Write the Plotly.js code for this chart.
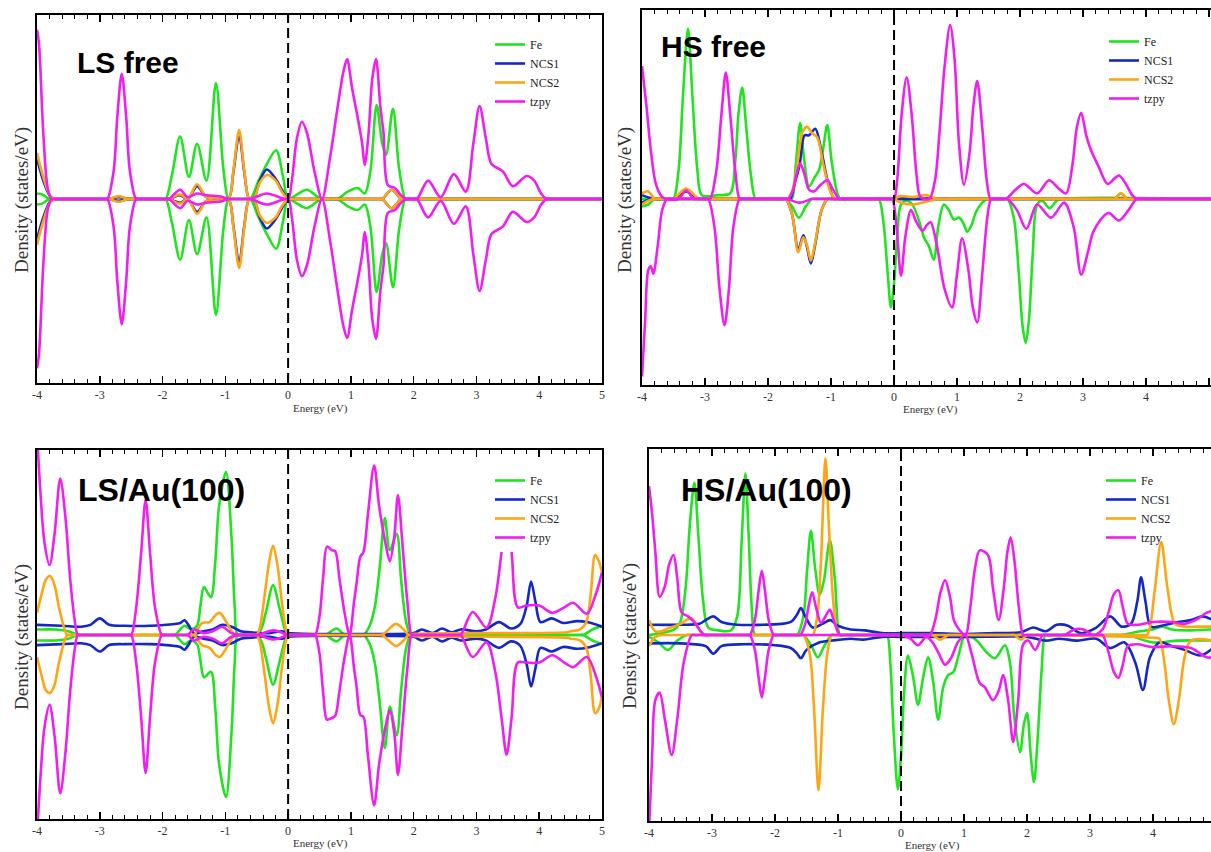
<!DOCTYPE html>
<html><head><meta charset="utf-8">
<script src="https://cdn.plot.ly/plotly-3.0.1.min.js"></script>
<style>html,body{margin:0;padding:0;background:#fff}#plot{width:1211px;height:852px}</style>
</head><body><div id="plot"></div>
<script>
// ---------- tick labels ----------
const tickValues = [-4,-3,-2,-1,0,1,2,3,4,5];
const tickLabels = ['-4','-3','-2','-1','0','1','2','3','4','5'];
const speciesNames = ['Fe','NCS1','NCS2','tzpy'];
const panelTitles = ['LS free','HS free','LS/Au(100)','HS/Au(100)'];

// ---------- Panel 1 : LS free ----------
const lf_Fe_x = [-4,-3.92,-3.8,-3.75,-2.9,-2.85,-2.7,-2.55,-2.5,-2.0,-1.95,-1.85,-1.72,-1.58,-1.45,-1.3,-1.15,-1.03,-0.95,-0.9,-0.65,-0.6,-0.47,-0.34,-0.19,-0.08,0,0.12,0.3,0.48,0.6,0.78,0.95,1.11,1.22,1.31,1.41,1.5,1.56,1.67,1.77,1.87,1.92,4.95,5];
const lf_Fe_up_y = [0.3,0.25,0,0,0,0,0.15,0,0,0,0,1.3,3.4,1.2,3.0,1.0,6.3,1.6,0,0,0,0,1.0,1.9,2.65,1.2,0,0.2,0.5,0.1,0,0,0.4,0.6,0.3,1.5,5.1,3.0,2.4,4.9,1.6,0,0,0,0];
const lf_Fe_dn_y = [-0.3,-0.25,0,0,0,0,-0.15,0,0,0,0,-1.3,-3.3,-1.15,-3.0,-1.0,-6.3,-1.6,0,0,0,0,-1.0,-1.9,-2.7,-1.2,0,-0.2,-0.5,-0.1,0,0,-0.4,-0.6,-0.3,-1.5,-5.05,-3.0,-2.4,-4.8,-1.6,0,0,0,0];
const lf_NCS_x = [-4,-3.9,-3.8,-3.72,-3.67,-2.9,-2.85,-2.7,-2.55,-2.5,-1.95,-1.9,-1.72,-1.6,-1.45,-1.3,-1.1,-0.95,-0.87,-0.78,-0.7,-0.62,-0.55,-0.45,-0.34,-0.2,-0.1,0,0.05,1.45,1.5,1.65,1.8,1.85,4.95,5];
const lf_NCS1_up_y = [2.2,1.0,0.2,0,0,0,0,0.1,0,0,0,0,0.2,0,0.7,0.1,0.1,0,1.5,3.5,1.5,0,0,1.0,1.6,1.1,0.5,0,0,0,0,0.5,0,0,0,0];
const lf_NCS1_dn_y = [-2.2,-1.0,-0.2,0,0,0,0,-0.1,0,0,0,0,-0.2,0,-0.7,-0.1,-0.1,0,-1.5,-3.5,-1.5,0,0,-1.0,-1.6,-1.1,-0.5,0,0,0,0,-0.5,0,0,0,0];
const lf_NCS2_up_y = [2.5,1.2,0.25,0,0,0,0,0.15,0,0,0,0,0.25,0,0.8,0.1,0.1,0,1.6,3.75,1.6,0,0,0.9,1.3,1.0,0.4,0,0,0,0,0.5,0,0,0,0];
const lf_NCS2_dn_y = [-2.5,-1.2,-0.25,0,0,0,0,-0.15,0,0,0,0,-0.25,0,-0.8,-0.1,-0.1,0,-1.6,-3.75,-1.6,0,0,-0.9,-1.3,-1.0,-0.4,0,0,0,0,-0.5,0,0,0,0];
const lf_tz_x = [-4,-3.97,-3.9,-3.83,-3.77,-3.72,-2.93,-2.88,-2.78,-2.72,-2.65,-2.58,-2.52,-2.42,-2.37,-1.95,-1.9,-1.72,-1.6,-1.45,-1.3,-1.09,-0.95,-0.9,-0.65,-0.6,-0.34,-0.1,0,0.06,0.14,0.22,0.3,0.42,0.54,0.67,0.78,0.88,0.94,1.02,1.11,1.18,1.22,1.28,1.34,1.4,1.47,1.52,1.59,1.7,1.8,1.88,1.95,2.05,2.23,2.43,2.64,2.83,2.95,3.05,3.15,3.24,3.42,3.58,3.8,3.92,4.03,4.12,4.17,4.95,5];
const lf_tz_up_y = [9.2,8.5,3.6,0.6,0,0,0,0,1.5,4.5,6.8,4.5,1.5,0,0,0,0,0.5,0.1,0.3,0.2,0.15,0,0,0,0,0.3,0.05,0,1.0,3.3,4.2,3.6,1.5,0,2.3,4.8,6.9,7.6,6.0,4.4,3.0,1.85,3.5,6.5,7.6,5.0,3.6,0.75,0.6,0.2,0,0,0,1.0,0.1,1.35,0.4,3.0,5.05,3.3,1.9,1.5,0.7,1.25,1.0,0.3,0,0,0,0];
const lf_tz_dn_y = [-9.2,-8.5,-3.6,-0.6,0,0,0,0,-1.5,-4.5,-6.8,-4.5,-1.5,0,0,0,0,-0.5,-0.1,-0.3,-0.2,-0.15,0,0,0,0,-0.3,-0.05,0,-1.0,-3.3,-4.2,-3.6,-1.5,0,-2.3,-4.8,-6.9,-7.55,-6.0,-4.4,-3.0,-1.8,-3.5,-6.5,-7.6,-5.0,-3.6,-0.75,-0.6,-0.2,0,0,0,-1.0,-0.1,-1.35,-0.4,-3.0,-5.0,-3.3,-1.9,-1.5,-0.7,-1.25,-1.0,-0.3,0,0,0,0];

// ---------- Panel 2 : HS free ----------
const hf_Fe_up_x = [-4,-3.8,-3.55,-3.5,-3.42,-3.35,-3.27,-3.2,-3.12,-3.05,-2.8,-2.6,-2.52,-2.47,-2.41,-2.35,-2.28,-2.2,-2.15,-1.67,-1.62,-1.56,-1.49,-1.43,-1.35,-1.27,-1.19,-1.12,-1.06,-0.99,-0.9,-0.85,-0.8,3.45,3.5,3.6,3.7,3.75,5.05,5.1];
const hf_Fe_up_y = [0,0,0,0,1.5,5.5,9.1,5.5,1.5,0.2,0.2,0.3,2.0,4.5,5.95,4.0,1.5,0,0,0,0,1.8,4.05,2.2,0.65,1.1,1.55,2.8,3.95,2.0,0.3,0,0,0,0,0.3,0,0,0,0];
const hf_Fe_dn_x = [-4,-3.9,-3.8,-3.75,-1.77,-1.72,-1.62,-1.51,-1.4,-1.3,-1.25,-0.29,-0.24,-0.17,-0.1,-0.05,0,0.05,0.11,0.2,0.29,0.4,0.48,0.55,0.63,0.7,0.79,0.87,0.95,1.03,1.1,1.16,1.23,1.3,1.4,1.48,1.53,1.75,1.8,1.9,1.98,2.04,2.09,2.14,2.2,2.27,2.35,2.47,2.58,2.65,5.05,5.1];
const hf_Fe_dn_y = [-0.4,-0.3,0,0,0,0,-0.4,-1.0,-0.4,0,0,0,0,-1.2,-4.0,-5.8,-4.5,-2.0,-0.3,-0.1,-0.3,-1.2,-2.1,-2.5,-3.25,-1.5,-0.3,-0.6,-1.1,-1.0,-1.3,-1.75,-1.4,-0.7,-0.2,0,0,0,0,-1.0,-4.0,-6.8,-7.7,-6.5,-3.0,-0.3,-0.1,-0.5,-0.1,0,0,0];
const hf_NCS1_up_x = [-4,-3.8,-3.55,-3.5,-3.3,-3.1,-3.05,-1.7,-1.65,-1.58,-1.5,-1.42,-1.35,-1.25,-1.15,-1.05,-0.95,-0.9,5.05,5.1];
const hf_NCS1_up_y = [0.2,0,0,0,0.4,0,0,0,0,0.8,1.8,3.4,3.4,3.75,2.5,0.9,0,0,0,0];
const hf_NCS1_dn_x = [-4,-3.85,-3.8,-1.77,-1.72,-1.62,-1.52,-1.44,-1.38,-1.32,-1.25,-1.15,-1.05,-1.0,5.05,5.1];
const hf_NCS1_dn_y = [-0.2,0,0,0,0,-0.8,-2.7,-1.95,-2.6,-3.45,-2.4,-0.6,0,0,0,0];
const hf_NCS2_up_x = [-4,-3.9,-3.8,-3.75,-3.55,-3.5,-3.3,-3.1,-3.05,-1.75,-1.7,-1.62,-1.55,-1.45,-1.38,-1.3,-1.22,-1.12,-1.0,-0.92,-0.87,-0.05,0,0.1,0.3,0.5,0.7,0.9,0.95,3.45,3.5,3.6,3.7,3.75,5.05,5.1];
const hf_NCS2_up_y = [0.3,0.4,0,0,0,0,0.55,0,0,0,0,0.4,1.5,3.6,3.85,3.5,3.3,1.8,0.3,0,0,0,0,0.15,0.1,0.2,0,0,0,0,0,0.3,0,0,0,0];
const hf_NCS2_dn_x = [-4,-3.9,-3.8,-3.75,-1.77,-1.72,-1.62,-1.52,-1.44,-1.38,-1.32,-1.25,-1.15,-1.05,-1.0,-0.05,0,0.1,0.3,0.5,0.7,0.75,5.05,5.1];
const hf_NCS2_dn_y = [-0.3,-0.1,0,0,0,0,-0.8,-2.85,-2.05,-2.5,-3.3,-2.3,-0.6,0,0,0,0,-0.2,-0.3,-0.15,0,0,0,0];
const hf_tz_up_x = [-4,-3.93,-3.86,-3.78,-3.68,-3.62,-3.42,-3.3,-3.18,-3.13,-2.97,-2.92,-2.82,-2.74,-2.67,-2.6,-2.52,-2.45,-2.4,-1.73,-1.68,-1.6,-1.55,-1.49,-1.42,-1.35,-1.27,-1.18,-1.06,-0.97,-0.87,-0.82,-0.05,0,0.05,0.12,0.2,0.28,0.36,0.42,0.56,0.65,0.72,0.8,0.89,0.96,1.03,1.11,1.2,1.26,1.32,1.4,1.47,1.53,1.58,1.73,1.78,1.9,2.06,2.27,2.46,2.6,2.73,2.83,2.9,2.97,3.05,3.12,3.25,3.39,3.5,3.57,3.68,3.78,3.85,3.9,5.05,5.1];
const hf_tz_up_y = [7.1,5.0,2.6,0.8,0.1,0,0,0.45,0,0,0,0,1.5,4.5,6.75,4.5,1.5,0,0,0,0,0.5,1.3,1.9,1.3,0.5,0.4,0.7,1.0,0.5,0,0,0,0,1.0,4.5,6.5,4.5,1.2,0.1,0,1.0,3.5,7.0,9.3,7.5,3.0,0.75,2.5,5.0,6.3,3.8,1.0,0,0,0,0,0.4,0.8,0.3,1.0,0.6,0.3,1.8,3.8,4.6,3.4,2.65,1.7,0.8,1.1,1.25,0.8,0.2,0,0,0,0];
const hf_tz_dn_x = [-4,-3.95,-3.9,-3.86,-3.82,-3.75,-3.68,-3.6,-3.55,-3.0,-2.95,-2.85,-2.77,-2.69,-2.62,-2.55,-2.45,-2.4,-1.75,-1.7,-1.5,-1.3,-1.25,-0.08,-0.03,0.04,0.11,0.18,0.27,0.35,0.45,0.52,0.58,0.68,0.8,0.92,1.0,1.08,1.18,1.25,1.32,1.4,1.48,1.54,1.59,1.75,1.8,1.95,2.1,2.27,2.49,2.7,2.85,2.97,3.08,3.17,3.4,3.57,3.72,3.85,3.9,5.05,5.1];
const hf_tz_dn_y = [-9.5,-6.5,-3.8,-3.6,-4.0,-2.5,-0.6,0,0,0,0,-1.5,-4.8,-6.75,-4.8,-1.5,0,0,0,0,-0.2,0,0,0,0,-1.5,-4.1,-2.0,-0.6,-1.2,-1.7,-1.4,-1.25,-2.5,-4.8,-5.8,-4.0,-2.1,-3.8,-5.8,-6.6,-4.0,-1.0,0,0,0,0,-0.6,-1.6,-0.3,-1.0,-0.2,-1.5,-4.05,-2.8,-1.7,-0.75,-1.15,-0.6,0,0,0,0];

// ---------- Panel 3 : LS/Au(100) ----------
const la_Fe_x = [-4,-3.9,-3.7,-3.5,-3.35,-3.3,-1.85,-1.8,-1.65,-1.55,-1.45,-1.4,-1.34,-1.23,-1.16,-1.1,-0.99,-0.9,-0.85,-0.8,-0.6,-0.45,-0.35,-0.24,-0.14,-0.05,0,0.05,0.55,0.6,0.77,0.9,0.95,1.15,1.2,1.3,1.38,1.46,1.54,1.62,1.73,1.8,1.88,1.95,2.0,4.65,4.7,4.85,5];
const la_Fe_up_y = [0.3,0.3,0.3,0.2,0,0,0,0,0.5,0.3,0.5,1.5,2.6,2.05,4.0,7.0,8.85,5.2,1.5,0,0,0.2,1.3,2.7,1.5,0.3,0,0,0,0,0.35,0,0,0,0,0.5,1.5,3.7,6.35,4.6,5.5,3.0,0.7,0,0,0,0,0.3,0.5];
const la_Fe_dn_y = [-0.3,-0.3,-0.3,-0.2,0,0,0,0,-0.5,-0.3,-0.5,-1.3,-2.3,-2.0,-4.0,-7.0,-8.8,-5.2,-1.5,0,0,-0.2,-1.3,-2.7,-1.5,-0.3,0,0,0,0,-0.35,0,0,0,0,-0.5,-1.5,-3.7,-6.15,-3.9,-5.45,-3.0,-0.7,0,0,0,0,-0.3,-0.5];
const la_NCS1_x = [-4,-3.6,-3.3,-3.15,-3.0,-2.85,-2.6,-2.2,-1.8,-1.72,-1.65,-1.58,-1.5,-1.35,-1.2,-1.05,-0.9,-0.75,-0.6,-0.45,-0.3,-0.1,0,0.5,1.0,1.5,2.0,2.13,2.3,2.45,2.6,2.75,3.0,3.15,3.36,3.55,3.7,3.8,3.87,3.94,4.02,4.2,4.38,4.6,4.76,5];
const la_NCS1_up_y = [0.55,0.5,0.45,0.55,0.9,0.55,0.5,0.5,0.6,0.65,0.8,0.5,0.1,0.2,0.3,0.55,0.45,0.2,0.15,0.1,0.1,0.2,0.1,0.05,0.05,0.05,0.1,0.3,0.1,0.35,0.15,0.3,0.2,0.3,0.7,0.35,0.6,1.6,2.9,1.8,0.7,0.9,0.65,0.75,0.7,0.45];
const la_NCS1_dn_y = [-0.55,-0.5,-0.45,-0.55,-0.9,-0.55,-0.5,-0.5,-0.6,-0.65,-0.8,-0.5,-0.1,-0.2,-0.3,-0.55,-0.45,-0.2,-0.15,-0.1,-0.1,-0.2,-0.1,-0.05,-0.05,-0.05,-0.1,-0.3,-0.1,-0.35,-0.15,-0.3,-0.2,-0.3,-0.7,-0.35,-0.6,-1.6,-2.8,-1.8,-0.7,-0.9,-0.65,-0.75,-0.7,-0.45];
const la_NCS2_x = [-4,-3.92,-3.86,-3.79,-3.72,-3.65,-3.52,-3.47,-1.55,-1.5,-1.37,-1.25,-1.15,-1.09,-1.0,-0.9,-0.85,-0.8,-0.55,-0.5,-0.45,-0.38,-0.3,-0.24,-0.17,-0.1,-0.04,0,0.05,1.45,1.5,1.6,1.72,1.84,1.92,1.97,4.45,4.5,4.65,4.75,4.82,4.89,4.95,5];
const la_NCS2_up_y = [1.2,2.3,3.0,3.2,2.7,1.5,0,0,0,0,0.65,0.7,1.1,1.2,0.8,0.2,0,0,0,0,0.4,2.0,4.0,4.85,3.8,1.8,0.4,0,0,0,0,0.3,0.6,0.3,0,0.05,0.15,0.2,0.3,0.7,2.2,4.35,4.0,3.4];
const la_NCS2_dn_y = [-1.2,-2.3,-3.0,-3.15,-2.7,-1.5,0,0,0,0,-0.55,-0.7,-1.1,-1.2,-0.8,-0.2,0,0,0,0,-0.4,-2.0,-4.0,-4.8,-3.8,-1.8,-0.4,0,0,0,0,-0.3,-0.6,-0.3,0,-0.05,-0.15,-0.2,-0.3,-0.7,-2.2,-4.25,-4.0,-3.3];
const la_tz_x = [-4,-3.95,-3.88,-3.8,-3.72,-3.63,-3.55,-3.47,-3.4,-3.35,-3.3,-2.55,-2.5,-2.42,-2.34,-2.27,-2.2,-2.12,-2.01,-1.96,-1.65,-1.6,-1.5,-1.35,-1.2,-1.05,-0.9,-0.5,-0.23,0,0.05,0.38,0.43,0.5,0.56,0.62,0.7,0.75,0.82,0.9,0.98,1.05,1.09,1.15,1.2,1.27,1.37,1.45,1.55,1.62,1.69,1.75,1.82,1.9,1.97,2.02,2.7,2.75,2.94,3.16,3.3,3.4,3.48,3.56,3.66,3.8,4.0,4.21,4.4,4.54,4.76,4.9,5];
const la_tz_up_y = [11,8,5,3.8,5.5,8.5,6.5,3,0.8,0,0,0,0,1.5,4.5,7.35,4.5,1.5,0,0,0,0,0.3,0.1,0.2,0.45,0.1,0,0.25,0,0,0,0,1.0,3.2,4.8,4.6,4.55,3.0,1.2,0,1.8,2.8,4.25,4.5,6.5,9.2,7.0,5.0,4.0,5.3,7.6,5.0,1.8,0,0,0,0,1.25,0.4,2.0,4.5,6.5,4.5,1.5,1.6,1.6,1.2,1.5,1.75,1.15,2.2,3.4];
const la_tz_dn_y = [-11,-8,-5,-3.8,-5.5,-8.6,-6.5,-3,-0.8,0,0,0,0,-1.5,-4.5,-7.5,-4.5,-1.5,0,0,0,0,-0.3,-0.1,-0.2,-0.45,-0.1,0,-0.25,0,0,0,0,-1.0,-3.2,-4.6,-4.5,-4.4,-3.0,-1.2,0,-1.8,-2.8,-4.35,-4.45,-6.5,-9.25,-7.0,-5.0,-4.1,-5.3,-7.6,-5.0,-1.8,0,0,0,0,-1.2,-0.4,-2.0,-4.5,-6.5,-4.5,-1.5,-1.5,-1.5,-1.1,-1.5,-1.75,-1.2,-2.2,-3.4];

// ---------- Panel 4 : HS/Au(100) ----------
const ha_Fe_up_x = [-4,-3.6,-3.51,-3.42,-3.35,-3.28,-3.22,-3.14,-3.06,-2.9,-2.7,-2.6,-2.53,-2.47,-2.42,-2.37,-2.32,-2.27,-1.7,-1.65,-1.55,-1.49,-1.43,-1.36,-1.29,-1.22,-1.13,-1.05,-0.97,-0.92,3.45,3.5,3.8,4.0,4.15,4.3,4.6,4.95];
const ha_Fe_up_y = [0,0.3,0.65,2.5,6.0,8.2,5.5,1.8,0.4,0.25,0.25,1.0,5.0,8.7,5.5,1.5,0,0,0,0,1.0,3.5,5.6,3.5,2.15,3.0,5.1,3.0,0,0,0,0,0.2,0.3,0.45,0.3,0.25,0.3];
const ha_Fe_dn_x = [-4,-3.85,-3.7,-3.55,-3.4,-3.35,-1.6,-1.55,-1.42,-1.32,-1.22,-1.1,-1.05,-0.27,-0.22,-0.17,-0.12,-0.05,0,0.05,0.11,0.19,0.27,0.35,0.43,0.51,0.59,0.67,0.75,0.83,0.92,1.02,1.2,1.35,1.49,1.65,1.73,1.8,1.89,1.95,2.0,2.06,2.11,2.17,2.23,2.29,2.34,3.55,3.6,4.0,4.4,4.95];
const ha_Fe_dn_y = [-0.1,-0.4,-0.8,-0.3,0,0,0,0,-0.6,-1.2,-0.6,0,0,0,0,-1.5,-5.0,-8.3,-6.5,-3.0,-1.1,-2.2,-3.75,-2.3,-1.2,-2.5,-4.55,-2.8,-2.15,-2.0,-1.0,0,-0.3,-0.9,-1.25,-0.55,-1.5,-4.5,-6.3,-4.8,-4.2,-6.5,-7.9,-5.5,-2.0,0,0,0,0,-0.4,-0.3,-0.3];
const ha_NCS1_up_x = [-4,-3.5,-3.2,-3.1,-2.98,-2.85,-2.6,-2.2,-1.9,-1.75,-1.65,-1.59,-1.52,-1.4,-1.25,-1.12,-1.0,-0.8,-0.57,-0.3,0,0.5,1.0,1.5,1.9,2.1,2.3,2.47,2.65,2.85,3.1,3.32,3.5,3.65,3.75,3.81,3.88,3.97,4.2,4.4,4.6,4.79,4.95];
const ha_NCS1_up_y = [0.55,0.55,0.6,0.8,1.0,0.7,0.55,0.55,0.6,0.7,1.1,1.45,1.0,0.4,0.6,0.8,0.5,0.3,0.25,0.1,0.1,0.1,0.05,0.1,0.15,0.4,0.2,0.55,0.5,0.1,0.4,1.0,0.45,0.6,1.8,3.1,1.8,0.45,0.55,0.7,0.8,1.0,0.8];
const ha_NCS1_dn_x = [-4,-3.5,-3.1,-2.98,-2.85,-2.5,-2.0,-1.75,-1.65,-1.59,-1.5,-1.3,-1.1,-0.8,-0.6,-0.3,0,1.0,2.0,2.3,2.5,2.8,3.1,3.32,3.55,3.72,3.84,3.95,4.1,4.3,4.5,4.75,4.95];
const ha_NCS1_dn_y = [-0.45,-0.45,-0.6,-1.0,-0.6,-0.5,-0.55,-0.7,-1.0,-1.25,-0.8,-0.4,-0.3,-0.2,-0.25,-0.1,-0.1,-0.1,-0.1,-0.3,-0.2,-0.3,-0.2,-0.7,-0.4,-1.5,-2.95,-1.2,-0.4,-0.6,-0.8,-1.1,-0.7];
const ha_NCS2_up_x = [-4,-3.9,-3.8,-3.7,-3.5,-3.33,-3.22,-3.13,-3.08,-1.45,-1.4,-1.33,-1.27,-1.2,-1.14,-1.08,-1.02,-0.97,-0.92,3.85,3.9,3.95,4.03,4.13,4.23,4.35,4.5,4.7,4.95];
const ha_NCS2_up_y = [0.8,0.2,0.2,0.35,0.6,0.9,0.4,0,0,0,0,1.0,4.0,9.5,5.5,2.0,0.3,0,0,0,0,0.4,2.5,5.0,2.5,0.6,0.45,0.45,0.45];
const ha_NCS2_dn_x = [-4,-3.9,-3.8,-3.75,-1.6,-1.55,-1.45,-1.38,-1.31,-1.24,-1.17,-1.1,-1.05,0.45,0.5,0.62,0.75,0.8,1.75,1.8,1.9,2.0,2.05,4.0,4.1,4.18,4.25,4.33,4.41,4.5,4.6,4.95];
const ha_NCS2_dn_y = [-0.6,-0.1,0,0,0,0,-1.0,-4.0,-8.35,-4.0,-1.0,0,0,0,0,-0.25,0,0,0,0,-0.25,0,0,-0.15,-0.2,-1.5,-3.5,-4.8,-3.5,-1.2,-0.3,-0.3];
const ha_tz_up_x = [-4,-3.95,-3.9,-3.83,-3.75,-3.68,-3.61,-3.55,-3.48,-3.38,-3.27,-3.18,-3.11,-3.06,-2.45,-2.4,-2.32,-2.26,-2.21,-2.16,-2.1,-2.02,-1.97,-1.65,-1.6,-1.52,-1.47,-1.41,-1.35,-1.27,-1.2,-1.13,-1.06,-0.97,-0.92,0.41,0.46,0.55,0.62,0.7,0.78,0.85,1.02,1.1,1.17,1.25,1.38,1.46,1.55,1.63,1.69,1.74,1.8,1.87,1.94,1.99,2.55,2.6,2.75,2.9,3.05,3.2,3.3,3.38,3.45,3.52,3.6,3.75,4.0,4.3,4.5,4.7,4.85,4.95];
const ha_tz_up_y = [8.0,6.5,4.5,2.05,2.6,3.8,4.3,3.0,1.2,1.0,0.65,0.2,0,0,0,0,0.8,2.4,3.45,2.4,0.8,0,0,0,0,0.6,1.5,2.3,1.5,0.65,1.0,1.35,0.7,0,0,0,0,0.9,2.2,2.95,2.0,0.7,0,1.5,3.5,4.55,4.3,2.5,0.8,2.5,4.5,5.25,4.0,1.5,0,0,0,0,0.3,0.3,0,0.3,1.3,2.2,2.4,1.5,0.6,0.55,0.7,0.7,0.6,0.85,1.2,1.3];
const ha_tz_dn_x = [-4,-3.95,-3.9,-3.83,-3.75,-3.64,-3.55,-3.45,-3.32,-3.27,-2.45,-2.4,-2.32,-2.26,-2.21,-2.16,-2.1,-2.02,-1.97,-0.05,0,0.15,0.27,0.4,0.5,0.6,0.7,0.8,0.9,1.02,1.12,1.25,1.33,1.46,1.55,1.62,1.7,1.78,1.86,1.94,2.02,2.13,2.25,2.3,3.15,3.2,3.3,3.38,3.45,3.52,3.6,3.75,4.0,4.3,4.6,4.85,4.95];
const ha_tz_dn_y = [-10.5,-6.5,-3.5,-3.1,-4.5,-6.45,-4.5,-1.5,0,0,0,0,-0.8,-2.3,-3.35,-2.3,-0.8,0,0,0,0,-0.2,-0.55,-0.1,-0.4,-1.0,-1.6,-1.2,-0.4,0,-1.0,-2.6,-2.8,-3.5,-3.0,-2.15,-3.5,-5.75,-3.5,-0.5,-0.3,-0.8,0,0,0,0,-1.0,-2.0,-2.3,-1.6,-0.6,-0.5,-0.65,-0.6,-0.7,-1.2,-1.2];

// ---------- assembly ----------
const colors = {Fe:'#1fe41f', NCS1:'#1428c8', NCS2:'#ffa514', tzpy:'#f01ef0'};
const panels = [
  {ax:'', legend:'legend', series:{
    Fe:[[lf_Fe_x,lf_Fe_up_y],[lf_Fe_x,lf_Fe_dn_y]],
    NCS1:[[lf_NCS_x,lf_NCS1_up_y],[lf_NCS_x,lf_NCS1_dn_y]],
    NCS2:[[lf_NCS_x,lf_NCS2_up_y],[lf_NCS_x,lf_NCS2_dn_y]],
    tzpy:[[lf_tz_x,lf_tz_up_y],[lf_tz_x,lf_tz_dn_y]]}},
  {ax:'2', legend:'legend2', series:{
    Fe:[[hf_Fe_up_x,hf_Fe_up_y],[hf_Fe_dn_x,hf_Fe_dn_y]],
    NCS1:[[hf_NCS1_up_x,hf_NCS1_up_y],[hf_NCS1_dn_x,hf_NCS1_dn_y]],
    NCS2:[[hf_NCS2_up_x,hf_NCS2_up_y],[hf_NCS2_dn_x,hf_NCS2_dn_y]],
    tzpy:[[hf_tz_up_x,hf_tz_up_y],[hf_tz_dn_x,hf_tz_dn_y]]}},
  {ax:'3', legend:'legend3', series:{
    Fe:[[la_Fe_x,la_Fe_up_y],[la_Fe_x,la_Fe_dn_y]],
    NCS1:[[la_NCS1_x,la_NCS1_up_y],[la_NCS1_x,la_NCS1_dn_y]],
    NCS2:[[la_NCS2_x,la_NCS2_up_y],[la_NCS2_x,la_NCS2_dn_y]],
    tzpy:[[la_tz_x,la_tz_up_y],[la_tz_x,la_tz_dn_y]]}},
  {ax:'4', legend:'legend4', series:{
    Fe:[[ha_Fe_up_x,ha_Fe_up_y],[ha_Fe_dn_x,ha_Fe_dn_y]],
    NCS1:[[ha_NCS1_up_x,ha_NCS1_up_y],[ha_NCS1_dn_x,ha_NCS1_dn_y]],
    NCS2:[[ha_NCS2_up_x,ha_NCS2_up_y],[ha_NCS2_dn_x,ha_NCS2_dn_y]],
    tzpy:[[ha_tz_up_x,ha_tz_up_y],[ha_tz_dn_x,ha_tz_dn_y]]}}
];

const traces = [];
panels.forEach(p => {
  speciesNames.forEach(name => {
    p.series[name].forEach((xy, k) => {
      traces.push({
        type:'scatter', mode:'lines', x:xy[0], y:xy[1], name:name,
        xaxis:'x'+p.ax, yaxis:'y'+p.ax, legend:p.legend,
        showlegend:k===0, legendgroup:name+p.ax,
        line:{color:colors[name], width:2.6, shape:'spline', smoothing:0.9},
        hoverinfo:'skip'
      });
    });
  });
});

const W = 1211, H = 852;
function xdom(l, r){ return [l/W, Math.min(1, r/W)]; }
function ydom(t, b){ return [1-b/H, 1-t/H]; }
function xaxis(dom, range, anchor){
  return {domain:dom, range:range, anchor:anchor, showline:true, linewidth:2, linecolor:'#000', mirror:'allticks',
    ticks:'inside', ticklen:7, tickwidth:1.5, tickcolor:'#000',
    tickvals:tickValues, ticktext:tickLabels, showgrid:false, zeroline:false,
    tickfont:{family:'Liberation Serif, serif', size:12, color:'#333'},
    minor:{dtick:0.2, tick0:0, ticks:'inside', ticklen:4, tickwidth:1, tickcolor:'#000', showgrid:false},
    fixedrange:true};
}
function yaxis(dom, range, anchor){
  return {domain:dom, range:range, anchor:anchor, showline:true, linewidth:2, linecolor:'#000', mirror:true,
    ticks:'', showticklabels:false, showgrid:false, zeroline:false, fixedrange:true};
}
function legend(xpx, ypx, bg){
  return {x:xpx/W, y:1-ypx/H, xanchor:'left', yanchor:'top', bgcolor:bg, borderwidth:0,
    font:{family:'Liberation Serif, serif', size:12, color:'#222'}, itemwidth:30, tracegroupgap:0};
}

const annotations = [];
const labelPos = [[128,62,30],[713,47,30],[161,490,32],[766,490,32]];
panelTitles.forEach((t,i) => annotations.push({text:t, xref:'paper', yref:'paper', x:labelPos[i][0]/W, y:1-labelPos[i][1]/H,
  xanchor:'center', yanchor:'middle', showarrow:false, font:{family:'Liberation Sans, Arial, sans-serif', size:labelPos[i][2], color:'#000', weight:'bold'}}));
const ytPos = [[22,200],[625,200],[22,637],[630,636]];
ytPos.forEach(p => annotations.push({text:'Density (states/eV)', xref:'paper', yref:'paper', x:p[0]/W, y:1-p[1]/H,
  xanchor:'center', yanchor:'middle', textangle:-90, showarrow:false, font:{family:'Liberation Serif, serif', size:19, color:'#333'}}));
const xtPos = [[320,408],[930,410],[320,843],[932,845]];
xtPos.forEach(p => annotations.push({text:'Energy (eV)', xref:'paper', yref:'paper', x:p[0]/W, y:1-p[1]/H,
  xanchor:'center', yanchor:'middle', showarrow:false, font:{family:'Liberation Serif, serif', size:11, color:'#333'}}));

const shapes = ['','2','3','4'].map(a => ({type:'line', xref:'x'+a, yref:'y'+a+' domain', x0:0, x1:0, y0:0, y1:1,
  line:{color:'#000', width:2, dash:'10px,5px'}}));

const layout = {
  width:W, height:H, margin:{l:0,r:0,t:0,b:0}, paper_bgcolor:'#fff', plot_bgcolor:'#fff',
  xaxis: xaxis(xdom(37,602), [-4,5], 'y'),
  yaxis: yaxis(ydom(15,383), [-10,10], 'x'),
  xaxis2: xaxis(xdom(642,1211), [-4,5.03], 'y2'),
  yaxis2: yaxis(ydom(10,385), [-9.95,10.1], 'x2'),
  xaxis3: xaxis(xdom(37,602), [-4,5], 'y3'),
  yaxis3: yaxis(ydom(450,819), [-10,10.05], 'x3'),
  xaxis4: xaxis(xdom(649,1211), [-4,4.92], 'y4'),
  yaxis4: yaxis(ydom(449,821), [-10,10], 'x4'),
  legend: legend(490,30,'rgba(255,255,255,0)'),
  legend2: legend(1104,27,'rgba(255,255,255,0)'),
  legend3: legend(490,466,'#fff'),
  legend4: legend(1101,466,'rgba(255,255,255,0)'),
  annotations: annotations,
  shapes: shapes,
  showlegend:true
};

Plotly.newPlot('plot', traces, layout, {staticPlot:true, displayModeBar:false});
</script>
</body></html>
